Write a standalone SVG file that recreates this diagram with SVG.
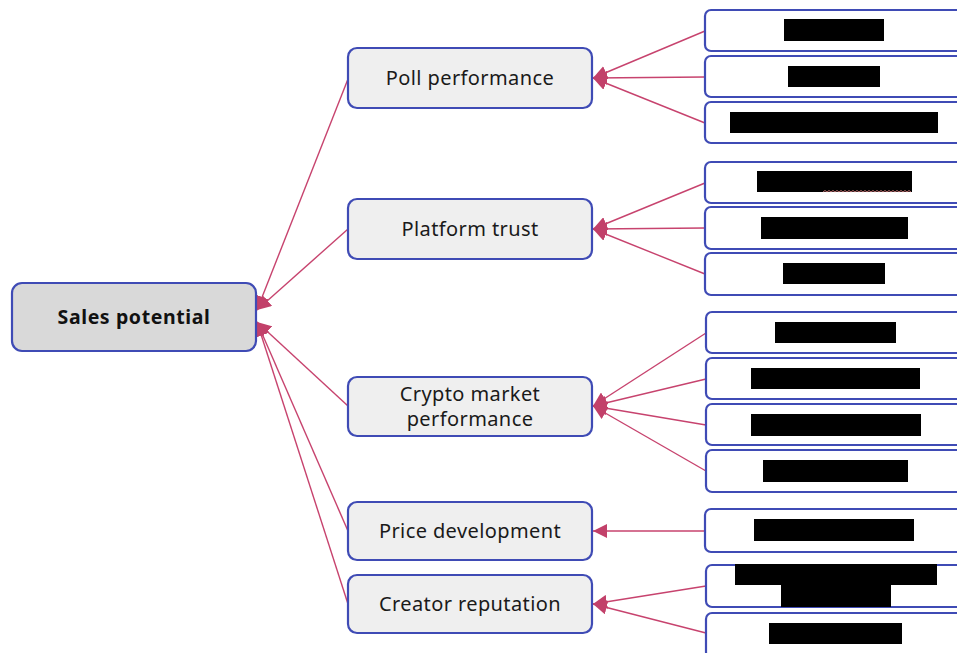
<svg xmlns="http://www.w3.org/2000/svg" width="957" height="653" viewBox="0 0 957 653">
<style>
.root{fill:#d9d9d9;stroke:#3f4bb5;stroke-width:2.2}
.mid{fill:#efefef;stroke:#3f4bb5;stroke-width:2.2}
.leaf{fill:#ffffff;stroke:#3f4bb5;stroke-width:2.2}
.red{fill:#000}
.t{font-family:"Noto Sans","Open Sans",sans-serif;font-size:20px;letter-spacing:0.4px;fill:#1a1a1a;text-anchor:middle}
.tb{font-family:"Noto Sans","Open Sans",sans-serif;font-size:19.5px;letter-spacing:0.6px;font-weight:bold;fill:#111;text-anchor:middle}
.c{stroke:#c7436e;stroke-width:1.4;fill:none;marker-end:url(#ah)}
</style>
<defs>
<marker id="ah" markerUnits="userSpaceOnUse" markerWidth="16" markerHeight="14" refX="14" refY="7" orient="auto">
<path d="M0,0 L14,7 L0,14 Z" fill="#c2416a"/>
</marker>
</defs>
<rect width="957" height="653" fill="#fff"/>
<g id="connectors">
<line class="c" x1="348" y1="79" x2="257" y2="310"/>
<line class="c" x1="348" y1="229" x2="257" y2="310"/>
<line class="c" x1="348" y1="406" x2="257" y2="322"/>
<line class="c" x1="348" y1="531" x2="257" y2="322"/>
<line class="c" x1="348" y1="604" x2="257" y2="322"/>
<line class="c" x1="705" y1="31" x2="593" y2="78"/>
<line class="c" x1="705" y1="77" x2="593" y2="78"/>
<line class="c" x1="705" y1="123" x2="593" y2="78"/>
<line class="c" x1="705" y1="183" x2="593" y2="229"/>
<line class="c" x1="705" y1="228" x2="593" y2="229"/>
<line class="c" x1="705" y1="274" x2="593" y2="229"/>
<line class="c" x1="706" y1="333" x2="593" y2="406"/>
<line class="c" x1="706" y1="379" x2="593" y2="406"/>
<line class="c" x1="706" y1="425" x2="593" y2="406"/>
<line class="c" x1="706" y1="471" x2="593" y2="406"/>
<line class="c" x1="706" y1="531" x2="593" y2="531"/>
<line class="c" x1="706" y1="586" x2="593" y2="604"/>
<line class="c" x1="706" y1="633" x2="593" y2="604"/>
</g>
<g id="sales-potential">
<rect class="root" x="12" y="283" width="244" height="68" rx="10"/>
<text class="tb" x="134" y="324">Sales potential</text>
</g>
<g id="poll-performance">
<rect class="mid" x="348" y="48" width="244" height="60" rx="9"/>
<text class="t" x="470" y="85">Poll performance</text>
</g>
<g id="platform-trust">
<rect class="mid" x="348" y="199" width="244" height="60" rx="9"/>
<text class="t" x="470" y="236">Platform trust</text>
</g>
<g id="crypto-market-performance">
<rect class="mid" x="348" y="377" width="244" height="59" rx="9"/>
<text class="t" x="470" y="401">Crypto market</text>
<text class="t" x="470" y="426">performance</text>
</g>
<g id="price-development">
<rect class="mid" x="348" y="502" width="244" height="58" rx="9"/>
<text class="t" x="470" y="538">Price development</text>
</g>
<g id="creator-reputation">
<rect class="mid" x="348" y="575" width="244" height="58" rx="9"/>
<text class="t" x="470" y="611">Creator reputation</text>
</g>
<g id="poll-child-1"><rect class="leaf" x="705" y="10" width="270" height="41" rx="6"/><rect class="red" x="784" y="19" width="100" height="22"/></g>
<g id="poll-child-2"><rect class="leaf" x="705" y="56" width="270" height="41" rx="6"/><rect class="red" x="788" y="66" width="92" height="21"/></g>
<g id="poll-child-3"><rect class="leaf" x="705" y="102" width="270" height="41" rx="6"/><rect class="red" x="730" y="112" width="208" height="21"/></g>
<g id="trust-child-1"><rect class="leaf" x="705" y="162" width="270" height="41" rx="6"/><rect class="red" x="757" y="171" width="155" height="21"/><path d="M823,192 l2,-1.5 l2,1.5 l2,-1.5 l2,1.5 l2,-1.5 l2,1.5 l2,-1.5 l2,1.5 l2,-1.5 l2,1.5 l2,-1.5 l2,1.5 l2,-1.5 l2,1.5 l2,-1.5 l2,1.5 l2,-1.5 l2,1.5 l2,-1.5 l2,1.5 l2,-1.5 l2,1.5 l2,-1.5 l2,1.5 l2,-1.5 l2,1.5 l2,-1.5 l2,1.5 l2,-1.5 l2,1.5 l2,-1.5 l2,1.5 l2,-1.5 l2,1.5 l2,-1.5 l2,1.5 l2,-1.5 l2,1.5 l2,-1.5 l2,1.5 l2,-1.5 l2,1.5 l2,-1.5 l2,1.5" fill="none" stroke="#e88a8a" stroke-width="0.8"/></g>
<g id="trust-child-2"><rect class="leaf" x="705" y="207" width="270" height="42" rx="6"/><rect class="red" x="761" y="217" width="147" height="22"/></g>
<g id="trust-child-3"><rect class="leaf" x="705" y="253" width="270" height="42" rx="6"/><rect class="red" x="783" y="263" width="102" height="21"/></g>
<g id="crypto-child-1"><rect class="leaf" x="706" y="312" width="270" height="41" rx="6"/><rect class="red" x="775" y="322" width="121" height="21"/></g>
<g id="crypto-child-2"><rect class="leaf" x="706" y="358" width="270" height="41" rx="6"/><rect class="red" x="751" y="368" width="169" height="21"/></g>
<g id="crypto-child-3"><rect class="leaf" x="706" y="404" width="270" height="41" rx="6"/><rect class="red" x="751" y="414" width="170" height="22"/></g>
<g id="crypto-child-4"><rect class="leaf" x="706" y="450" width="270" height="42" rx="6"/><rect class="red" x="763" y="460" width="145" height="22"/></g>
<g id="price-child-1"><rect class="leaf" x="705" y="509" width="270" height="43" rx="6"/><rect class="red" x="754" y="519" width="160" height="22"/></g>
<g id="creator-child-1"><rect class="leaf" x="706" y="565" width="270" height="42" rx="6"/><rect class="red" x="735" y="564" width="202" height="21"/><rect class="red" x="781" y="585" width="110" height="22"/></g>
<g id="creator-child-2"><rect class="leaf" x="706" y="613" width="270" height="45" rx="6"/><rect class="red" x="769" y="623" width="133" height="21"/></g>
</svg>
